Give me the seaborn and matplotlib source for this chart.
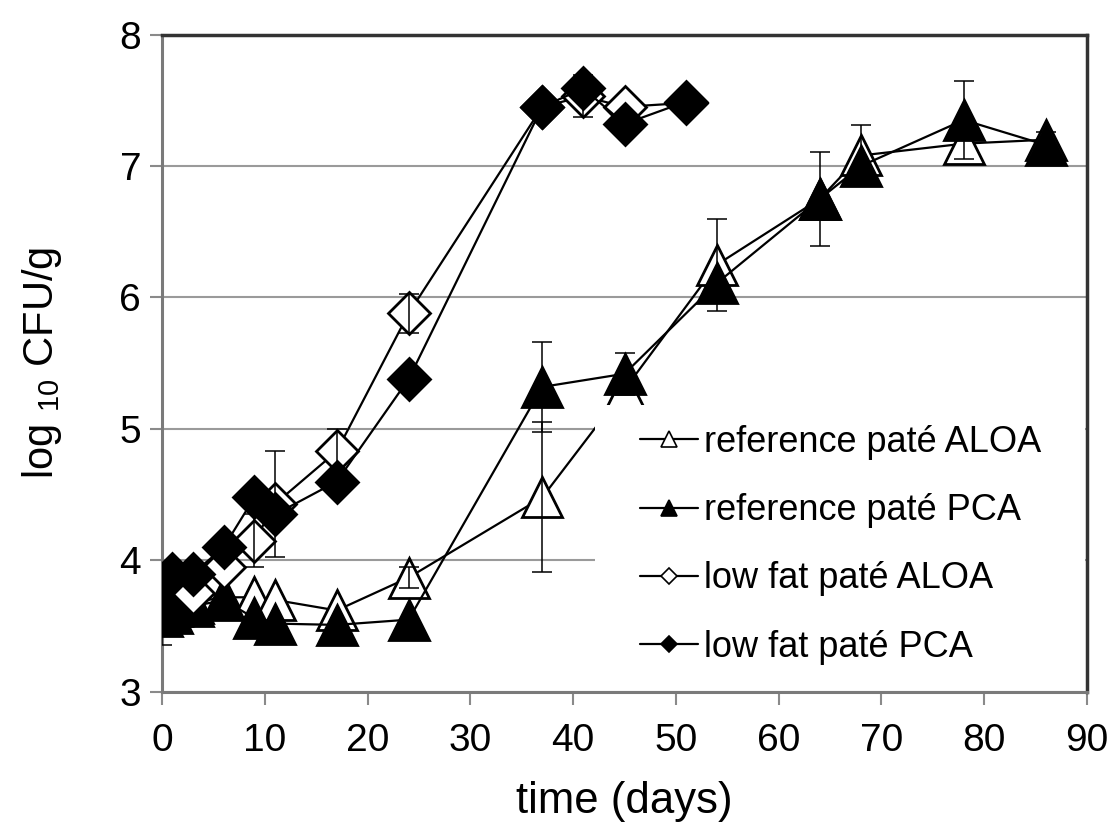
import numpy as np
import pandas as pd
import matplotlib
matplotlib.use("Agg")
import matplotlib.pyplot as plt
import seaborn as sns
from matplotlib.lines import Line2D
from matplotlib.patches import Rectangle

# ---- data ----
days_ref = [0, 1, 3, 6, 9, 11, 17, 24, 37, 45, 54, 64, 68, 78, 86]
ref_aloa = [3.62, 3.65, 3.68, 3.72, 3.72, 3.70, 3.62, 3.87, 4.48, 5.30, 6.25, 6.75, 7.08, 7.17, 7.20]
ref_aloa_err = [0, 0, 0, 0, 0, 0, 0, 0.08, 0.57, 0, 0.35, 0.36, 0.23, 0, 0]
ref_pca = [3.58, 3.60, 3.65, 3.70, 3.56, 3.52, 3.51, 3.55, 5.32, 5.42, 6.11, 6.75, 7.00, 7.35, 7.16]
ref_pca_err = [0.22, 0, 0, 0, 0, 0, 0, 0, 0.34, 0.16, 0, 0, 0, 0.30, 0.10]

days_low = [0, 1, 3, 6, 9, 11, 17, 24, 37, 41, 45, 51]
low_aloa = [3.72, 3.80, 3.75, 3.95, 4.15, 4.43, 4.83, 5.88, 7.45, 7.53, 7.45, 7.48]
low_aloa_err = [0, 0, 0, 0, 0.20, 0.40, 0.17, 0.15, 0, 0.16, 0, 0]
low_pca = [3.65, 3.90, 3.90, 4.10, 4.48, 4.35, 4.60, 5.38, 7.45, 7.59, 7.32, 7.49]
low_pca_err = [0, 0, 0, 0, 0, 0, 0, 0, 0, 0, 0, 0]

labels = ["reference paté ALOA", "reference paté PCA", "low fat paté ALOA", "low fat paté PCA"]
x_ticks = [0, 10, 20, 30, 40, 50, 60, 70, 80, 90]
y_ticks = [3, 4, 5, 6, 7, 8]

series = [
    (days_ref, ref_aloa, ref_aloa_err, "^", "white", 29, 11),
    (days_ref, ref_pca, ref_pca_err, "^", "black", 29, 11),
    (days_low, low_aloa, low_aloa_err, "D", "white", 21, 8),
    (days_low, low_pca, low_pca_err, "D", "black", 21, 8),
]

sns.set_theme(style="white")
plt.rcParams["font.family"] = ["Liberation Sans", "DejaVu Sans"]
plt.rcParams["mathtext.fontset"] = "custom"
plt.rcParams["mathtext.rm"] = "Liberation Sans"
plt.rcParams["mathtext.it"] = "Liberation Sans"
plt.rcParams["text.color"] = "black"
plt.rcParams["axes.labelcolor"] = "black"
plt.rcParams["xtick.labelcolor"] = "black"
plt.rcParams["ytick.labelcolor"] = "black"

fig = plt.figure(figsize=(11.14, 8.22), dpi=100)
ax = fig.add_axes([0.1454, 0.1582, 0.8304, 0.7998])

handles = []
for i, (d, v, e, m, fc, ms, lms) in enumerate(series):
    df = pd.DataFrame({"day": d, "val": v, "err": e})
    sns.lineplot(data=df, x="day", y="val", ax=ax, color="black", lw=1.6,
                 marker=m, markersize=ms, markerfacecolor=fc,
                 markeredgecolor="black", markeredgewidth=2.0,
                 estimator=None, sort=False, zorder=3 + i)
    sub = df[df["err"] > 0]
    ax.errorbar(sub["day"], sub["val"], yerr=sub["err"], fmt="none",
                ecolor="black", elinewidth=1.1, capsize=7, capthick=1.1, zorder=3 + i)
    handles.append(Line2D([0], [0], color="black", lw=1.6, marker=m, markersize=lms,
                          markerfacecolor=fc, markeredgecolor="black", markeredgewidth=1.2))

ax.set_xlim(0, 90)
ax.set_ylim(3, 8)
ax.set_xticks(x_ticks)
ax.set_yticks(y_ticks)
ax.set_xticklabels([str(t) for t in x_ticks], fontsize=28, color="black")
ax.set_yticklabels([str(t) for t in y_ticks], fontsize=28, color="black")
ax.yaxis.grid(True, color="#9a9a9a", lw=1.5)
ax.xaxis.grid(False)
ax.set_axisbelow(True)

for s in ["left", "bottom"]:
    ax.spines[s].set_color("#7a7a7a")
    ax.spines[s].set_linewidth(2.2)
for s in ["top", "right"]:
    ax.spines[s].set_color("#333333")
    ax.spines[s].set_linewidth(2.5)

ax.tick_params(axis="x", which="major", direction="out", length=9, width=1.5,
               color="#8a8a8a", pad=13, bottom=True)
ax.tick_params(axis="y", which="major", direction="out", length=9, width=1.5,
               color="#8a8a8a", pad=6, left=True)

ax.set_xlabel("time (days)", fontsize=31.5, labelpad=16, color="black")
ax.set_ylabel("log $_{10}$ CFU/g", fontsize=30, labelpad=40, color="black")

# white legend area (covers the plot behind the legend, as in the reference)
ax.add_patch(Rectangle((0.468, 0.004), 0.530, 0.433, transform=ax.transAxes,
                       facecolor="white", edgecolor="none", zorder=10))

leg = ax.legend(handles, labels, loc="upper left", bbox_to_anchor=(0.517, 0.406),
                fontsize=26, frameon=False, handlelength=1.6, handletextpad=0.17,
                labelspacing=0.92, borderpad=0.0, borderaxespad=0.0)
for t in leg.get_texts():
    t.set_color("black")
leg.set_zorder(20)

fig.savefig("out.png", dpi=100, facecolor="white")
